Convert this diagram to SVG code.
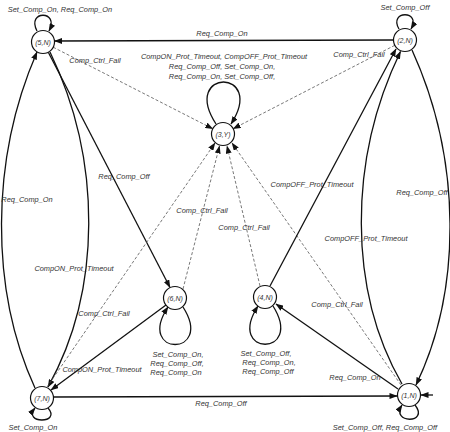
<svg xmlns="http://www.w3.org/2000/svg" width="450" height="432" viewBox="0 0 450 432">
<style>
.n circle{fill:#fff;stroke:#111;stroke-width:1.2}
.n text{font-family:"Liberation Sans",Arial,sans-serif;font-style:italic;font-size:7px;fill:#333;text-anchor:middle}
.e{fill:none;stroke:#111;stroke-width:1.3;marker-end:url(#ah)}
.d{fill:none;stroke:#555;stroke-width:0.8;stroke-dasharray:3,2;marker-end:url(#ah)}
.l{font-family:"Liberation Sans",Arial,sans-serif;font-style:italic;font-size:7.4px;fill:#333;text-anchor:middle}
</style>
<defs>
<marker id="ah" markerUnits="userSpaceOnUse" markerWidth="8" markerHeight="6" refX="7.5" refY="3" orient="auto">
<path d="M0,0 L8,3 L0,6 z" fill="#111"/>
</marker>
</defs>
<rect width="450" height="432" fill="#fff"/>
<g id="connectors">
<path class="e" d="M393.5,40 L54.5,41"/>
<path class="d" d="M53.2,47.2 L212.8,128.8"/>
<path class="d" d="M394.8,45.3 L233.2,128.7"/>
<path class="e" d="M216,124 C180,68 267,68 231,124"/>
<path class="e" d="M37,31 C26,10 60,10 49,31"/>
<path class="e" d="M399,29 C388,10 422,10 411,29"/>
<path class="e" d="M48.3,52.2 L170,287.5"/>
<path class="e" d="M35,388 C-10,290 -10,160 37,52"/>
<path class="e" d="M50,52 C102,160 102,290 48,387"/>
<path class="d" d="M183,289 L219.5,146"/>
<path class="d" d="M260,286 L227,146"/>
<path class="d" d="M401,385 L232,143"/>
<path class="d" d="M47,387 L215,143"/>
<path class="e" d="M270,286 L396,49"/>
<path class="e" d="M402,384 C348,290 348,160 400.5,51.5"/>
<path class="e" d="M412,50 C462,160 462,290 416,385"/>
<path class="e" d="M53.5,397 L397,396"/>
<path class="e" d="M166,305 L51,390"/>
<path class="e" d="M398,389 L276,304"/>
<path class="e" d="M183,307 C215,357 135,357 168,307"/>
<path class="e" d="M273,306 C305,357 225,357 258,306"/>
<path class="e" d="M48,408 C62,424 22,424 35,408"/>
<path class="e" d="M415,405 C430,424 390,424 402,405"/>
<path class="e" d="M433,395 L421,395"/>
</g>
<g id="edge-labels">
<text class="l" x="60" y="11.5">Set_Comp_On, Req_Comp_On</text>
<text class="l" x="405" y="9.5">Set_Comp_Off</text>
<text class="l" x="222" y="35.5">Req_Comp_On</text>
<text class="l" x="224" y="58.5">CompON_Prot_Timeout, CompOFF_Prot_Timeout</text>
<text class="l" x="222" y="68.5">Req_Comp_Off, Set_Comp_On,</text>
<text class="l" x="222" y="78.5">Req_Comp_On, Set_Comp_Off,</text>
<text class="l" x="95" y="62.5">Comp_Ctrl_Fail</text>
<text class="l" x="359" y="56.5">Comp_Ctrl_Fail</text>
<text class="l" x="124" y="178.5">Req_Comp_Off</text>
<text class="l" x="27" y="201.5">Req_Comp_On</text>
<text class="l" x="74" y="270.5">CompON_Prot_Timeout</text>
<text class="l" x="202" y="212.5">Comp_Ctrl_Fail</text>
<text class="l" x="244" y="229.5">Comp_Ctrl_Fail</text>
<text class="l" x="312" y="186.5">CompOFF_Prot_Timeout</text>
<text class="l" x="422" y="194.5">Req_Comp_Off</text>
<text class="l" x="366" y="240.5">CompOFF_Prot_Timeout</text>
<text class="l" x="104" y="315.5">Comp_Ctrl_Fail</text>
<text class="l" x="337" y="306.5">Comp_Ctrl_Fail</text>
<text class="l" x="102" y="371.5">CompON_Prot_Timeout</text>
<text class="l" x="355" y="379.5">Req_Comp_On</text>
<text class="l" x="178" y="356.5">Set_Comp_On,</text>
<text class="l" x="177" y="365.5">Req_Comp_Off,</text>
<text class="l" x="176" y="374.5">Req_Comp_On</text>
<text class="l" x="266" y="355.5">Set_Comp_Off,</text>
<text class="l" x="269" y="364.5">Req_Comp_On,</text>
<text class="l" x="268" y="373.5">Req_Comp_Off</text>
<text class="l" x="221" y="405.5">Req_Comp_Off</text>
<text class="l" x="33" y="429.5">Set_Comp_On</text>
<text class="l" x="385" y="429.5">Set_Comp_Off, Req_Comp_Off</text>
</g>
<g id="n5" class="n"><circle cx="43" cy="42" r="11.5"/><text x="43" y="44.5">(5,N)</text></g>
<g id="n2" class="n"><circle cx="405" cy="40" r="11.5"/><text x="405" y="42.5">(2,N)</text></g>
<g id="n3" class="n"><circle cx="223" cy="134" r="11.5"/><text x="223" y="136.5">(3,Y)</text></g>
<g id="n6" class="n"><circle cx="175" cy="298" r="11.5"/><text x="175" y="300.5">(6,N)</text></g>
<g id="n4" class="n"><circle cx="265" cy="297" r="11.5"/><text x="265" y="299.5">(4,N)</text></g>
<g id="n7" class="n"><circle cx="42" cy="398" r="11.5"/><text x="42" y="400.5">(7,N)</text></g>
<g id="n1" class="n"><circle cx="409" cy="395" r="11.5"/><text x="409" y="397.5">(1,N)</text></g>
</svg>
